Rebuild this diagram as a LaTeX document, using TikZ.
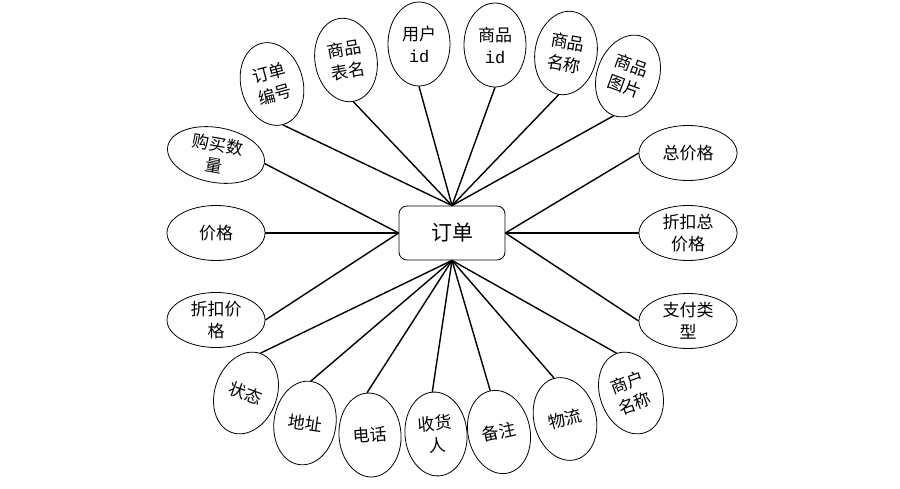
\documentclass[tikz,border=0pt]{standalone}
\usepackage{fontspec}
\newfontfamily\cjk{Noto Sans CJK SC}
\newfontfamily\idfont{Liberation Mono}
\usetikzlibrary{shapes.geometric}
\tikzset{
  link/.style={line width=1.4pt, draw=black},
  entitybox/.style={
    draw=black,
    line width=0.8pt,
    rounded corners=8pt,
    fill=white,
    minimum width=106pt,
    minimum height=54pt,
    font=\cjk\fontsize{21}{25}\selectfont
  },
  attr/.style={
    ellipse,
    draw=black,
    line width=0.8pt,
    fill=white,
    inner sep=0pt,
    align=center,
    font=\cjk\fontsize{17}{22}\selectfont
  },
  attrv/.style={attr, minimum width=62pt, minimum height=84pt},
  attrh/.style={attr, minimum width=98pt, minimum height=55pt}
}

\begin{document}
\begin{tikzpicture}[x=1pt,y=-1pt]
\useasboundingbox (0,0) rectangle (900,489);
\node[entitybox] (order) at (452,233) {订单};
% attributes above
\foreach \nm/\x/\y/\rot/\txt in {
  top1/272/84/15/{订单\\编号},
  top2/346/60/10/{商品\\表名},
  top3/419/44/0/{用户\\{\idfont id}},
  top4/495/45/0/{商品\\{\idfont id}},
  top5/566/53/-10/{商品\\名称},
  top6/628/76/-20/{商品\\图片}}{
\node[attrv,rotate=\rot] (\nm) at (\x,\y) {\txt};
\draw[link] (order.north) -- (\nm.south);
}
% attributes below
\foreach \nm/\x/\y/\rot/\txt in {
  bot1/631/393/20/{商户\\名称},
  bot2/565/419/15/{物流},
  bot3/499/432/12/{备注},
  bot4/436/434/5/{收货\\人},
  bot5/370/435/4/{电话},
  bot6/305/423/-8/{地址},
  bot7/246/393/-20/{状态}}{
\node[attrv,rotate=\rot] (\nm) at (\x,\y) {\txt};
\draw[link] (order.south) -- (\nm.north);
}
% attributes on the right
\foreach \nm/\y/\txt in {
  right1/153/{总价格},
  right2/233/{折扣总\\价格},
  right3/321/{支付类\\型}}{
\node[attrh] (\nm) at (688,\y) {\txt};
\draw[link] (order.east) -- (\nm.west);
}
% attributes on the left
\foreach \nm/\y/\rot/\txt in {
  left1/155/-10/{购买数\\量},
  left2/233/0/{价格},
  left3/320/0/{折扣价\\格}}{
\node[attrh,rotate=\rot] (\nm) at (216,\y) {\txt};
\draw[link] (order.west) -- (\nm.east);
}
\end{tikzpicture}
\end{document}
